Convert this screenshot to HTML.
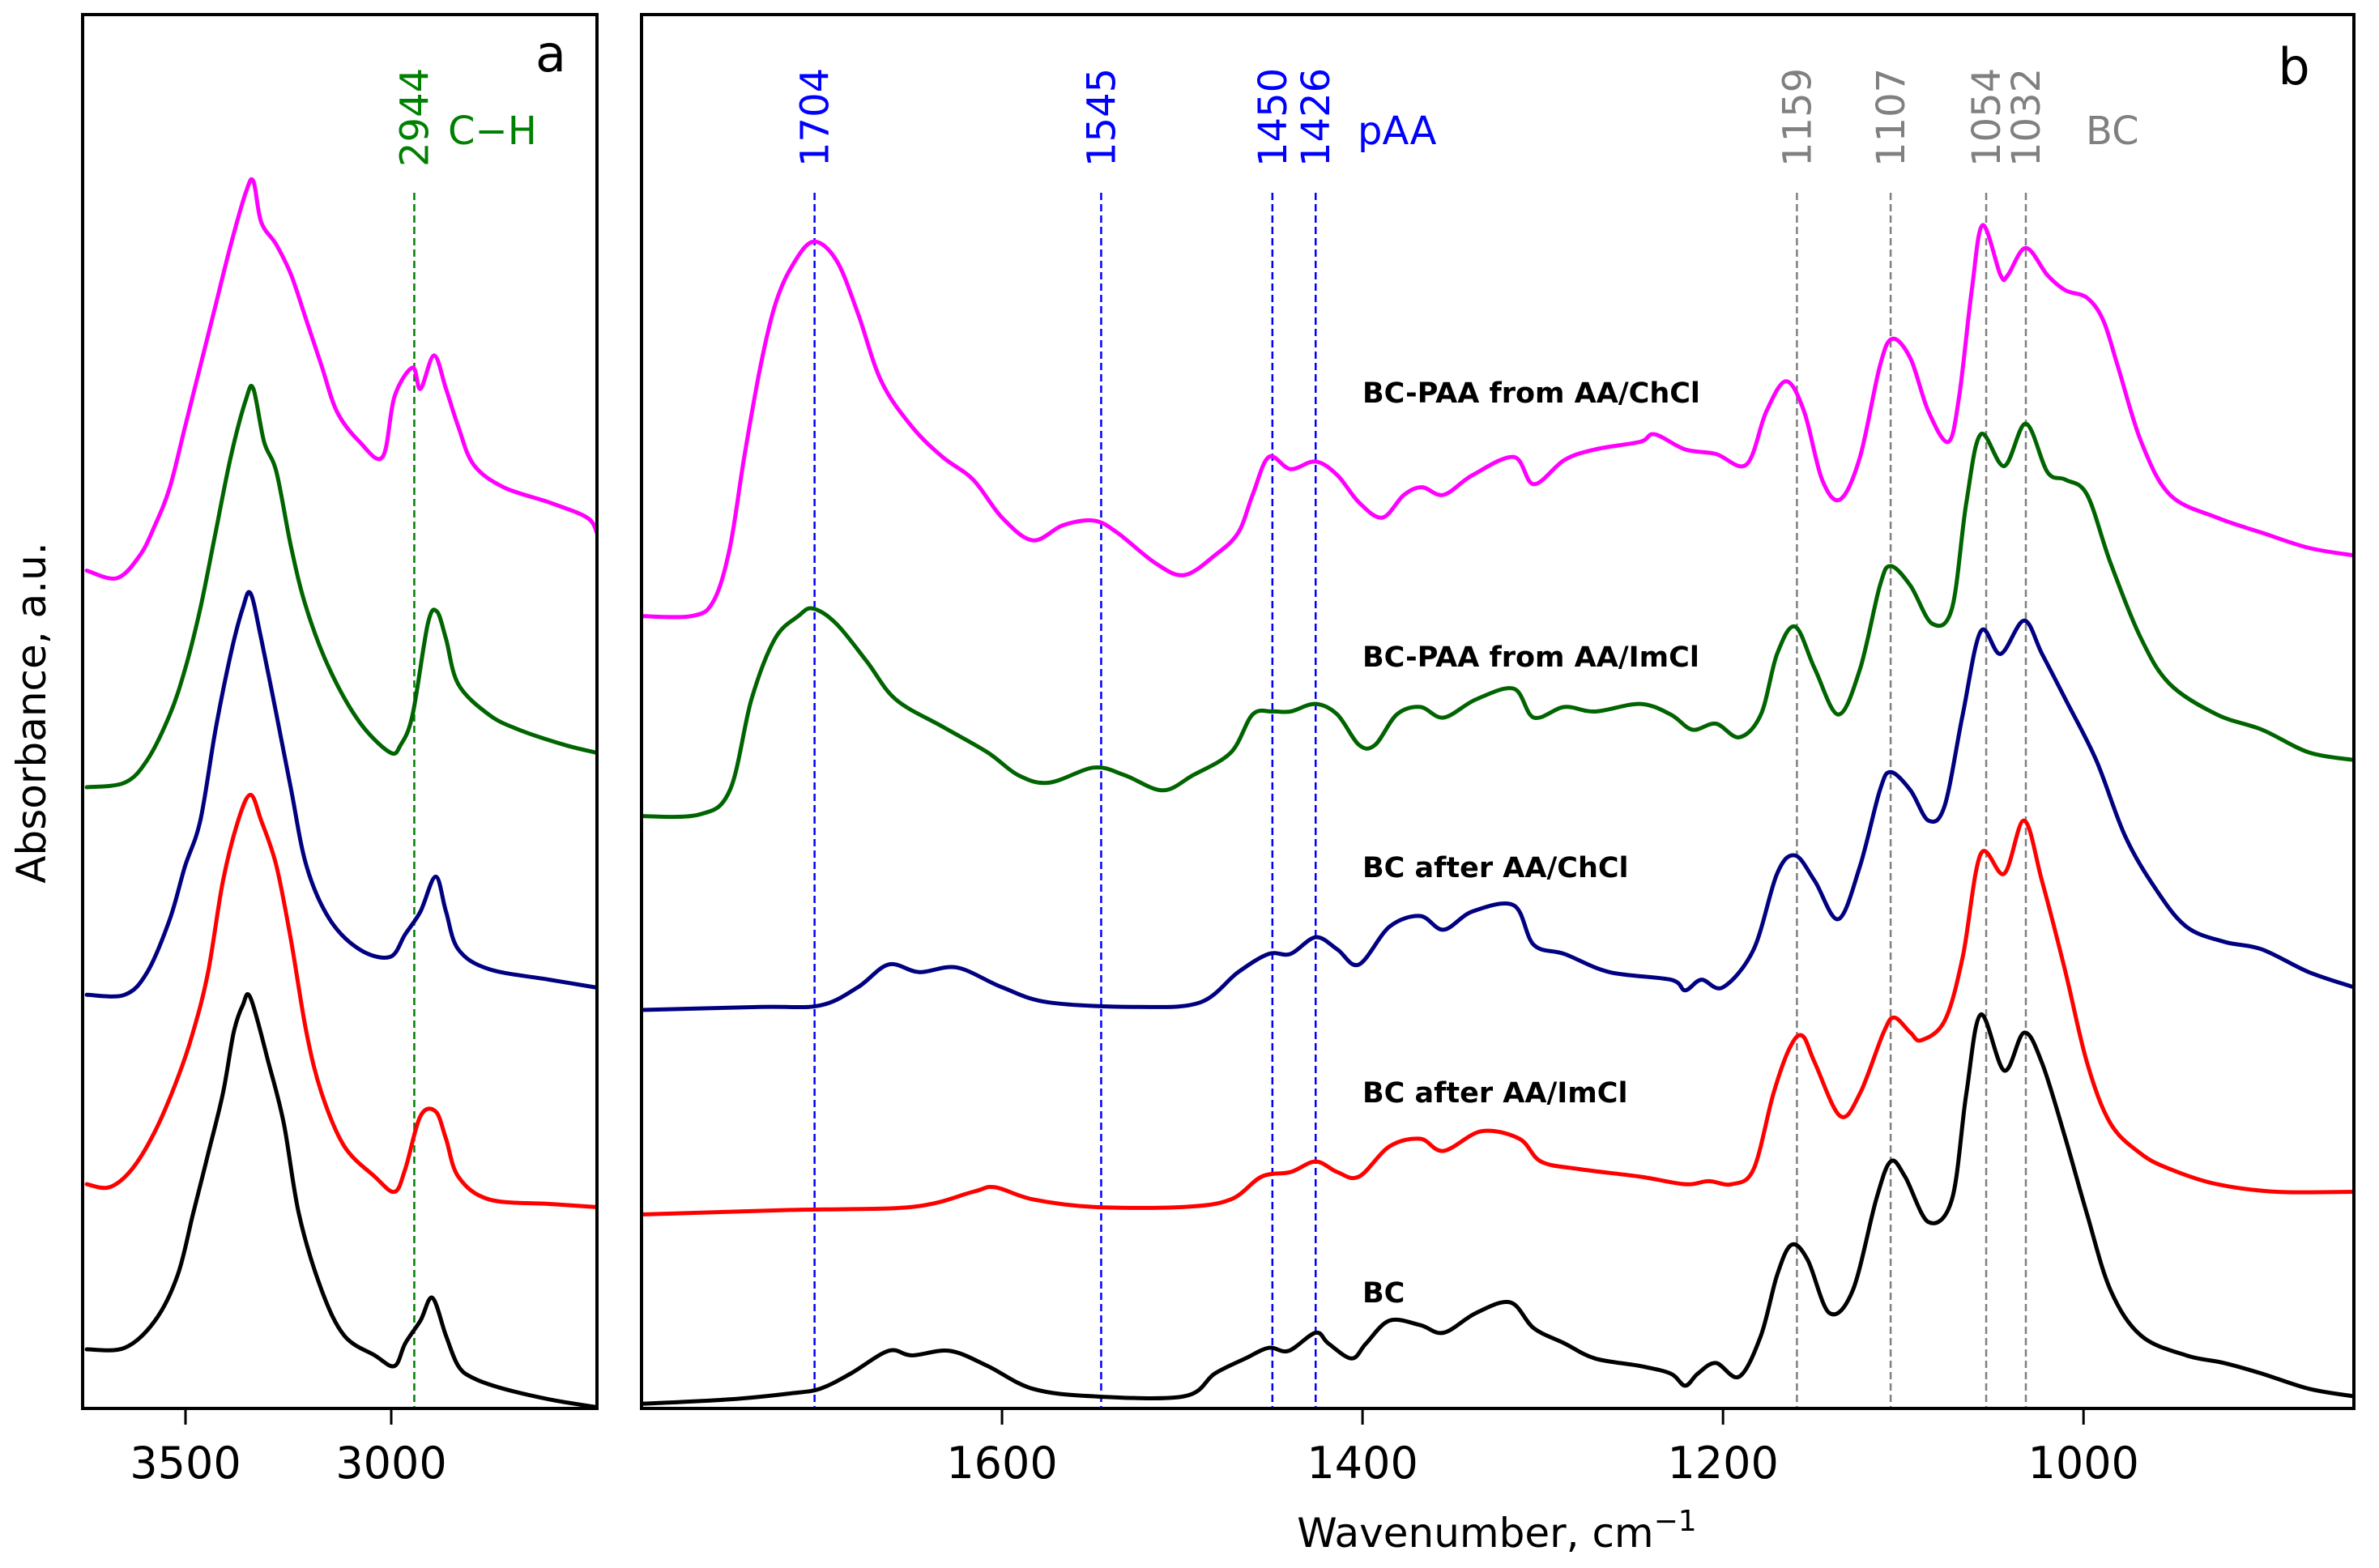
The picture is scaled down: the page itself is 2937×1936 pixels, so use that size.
<!DOCTYPE html>
<html><head><meta charset="utf-8"><style>
html,body{margin:0;padding:0;background:#fff;}
svg{display:block;font-family:"DejaVu Sans","Liberation Sans",sans-serif;}
</style></head><body>
<svg id="fig" width="2937" height="1936" viewBox="0 0 2937 1936" xmlns="http://www.w3.org/2000/svg"></svg>
<script>
// ---- Panel a data (wavenumber, absorbance a.u.) ----
const aBC_wn = [3740,3648,3574,3519,3482,3445,3409,3383,3361,3342,3298,3261,3224,3169,3114,3040,2992,2966,2929,2900,2867,2837,2800,2727,2616,2505];
const aBC_y  = [.39,.40,.58,.88,1.28,1.68,2.08,2.48,2.66,2.71,2.28,1.88,1.28,.78,.48,.35,.28,.43,.58,.73,.48,.28,.20,.13,.06,.01];
const aIm_wn = [3740,3685,3630,3574,3519,3482,3445,3409,3372,3342,3316,3279,3243,3206,3169,3114,3040,2992,2966,2929,2892,2867,2837,2763,2616,2505];
const aIm_y  = [1.48,1.46,1.58,1.83,2.18,2.48,2.88,3.48,3.88,4.05,3.88,3.58,3.08,2.48,2.08,1.73,1.53,1.43,1.58,1.93,1.96,1.78,1.53,1.38,1.35,1.33];
const aCh_wn = [3740,3648,3593,3538,3501,3464,3427,3390,3361,3342,3316,3279,3243,3206,3150,3077,3003,2966,2929,2892,2867,2837,2763,2616,2505];
const aCh_y  = [2.73,2.73,2.88,3.23,3.58,3.88,4.48,4.98,5.28,5.38,5.08,4.58,4.08,3.58,3.23,3.03,2.98,3.13,3.28,3.51,3.28,3.03,2.90,2.83,2.78];
const aPIm_wn = [3740,3648,3593,3538,3501,3464,3427,3390,3353,3335,3309,3279,3243,3206,3150,3077,3003,2977,2948,2911,2889,2867,2837,2763,2690,2579,2505];
const aPIm_y  = [4.10,4.13,4.28,4.58,4.88,5.28,5.78,6.28,6.66,6.73,6.38,6.18,5.68,5.28,4.88,4.53,4.33,4.38,4.58,5.18,5.26,5.08,4.78,4.58,4.48,4.38,4.33];
const aPCh_wn = [3740,3667,3611,3574,3538,3501,3464,3427,3390,3353,3335,3316,3279,3243,3206,3169,3132,3077,3021,2992,2948,2929,2896,2867,2837,2800,2727,2616,2524,2500];
const aPCh_y  = [5.53,5.48,5.63,5.83,6.08,6.48,6.88,7.28,7.68,8.03,8.10,7.83,7.68,7.48,7.18,6.88,6.58,6.38,6.28,6.68,6.87,6.73,6.95,6.73,6.48,6.23,6.08,5.98,5.88,5.78];
// ---- Panel b data ----
const bBC_wn = [1801,1751,1717,1701,1684,1663,1650,1629,1608,1583,1549,1499,1482,1465,1452,1441,1426,1419,1406,1398,1385,1368,1355,1337,1318,1305,1288,1271,1246,1229,1221,1214,1204,1191,1179,1170,1162,1153,1141,1128,1115,1107,1099,1086,1073,1065,1057,1044,1033,1023,1010,998,985,968,943,922,901,875,850];
const bBC_y  = [.03,.06,.10,.13,.23,.38,.35,.38,.28,.13,.08,.08,.23,.33,.40,.38,.50,.43,.33,.43,.58,.55,.50,.63,.70,.53,.43,.33,.28,.23,.15,.23,.30,.21,.48,.88,1.08,.98,.63,.78,1.38,1.63,1.53,1.23,1.38,2.08,2.60,2.23,2.48,2.28,1.78,1.28,.78,.48,.35,.30,.23,.13,.08];
const bIm_wn = [1801,1717,1650,1616,1604,1583,1549,1499,1473,1456,1440,1426,1414,1402,1385,1368,1355,1334,1313,1301,1280,1246,1221,1208,1195,1183,1172,1163,1156,1149,1135,1124,1111,1105,1096,1090,1077,1067,1057,1044,1033,1023,1010,998,985,968,952,926,893,850];
const bIm_y  = [1.28,1.31,1.33,1.43,1.46,1.38,1.33,1.33,1.38,1.53,1.56,1.63,1.56,1.53,1.73,1.78,1.70,1.83,1.78,1.63,1.58,1.53,1.48,1.50,1.48,1.58,2.08,2.38,2.46,2.28,1.93,2.08,2.48,2.58,2.48,2.43,2.56,2.98,3.66,3.53,3.88,3.48,2.88,2.28,1.88,1.68,1.58,1.48,1.43,1.43];
const bCh_wn = [1801,1734,1701,1680,1663,1646,1625,1600,1574,1524,1490,1469,1452,1440,1426,1414,1402,1385,1368,1355,1339,1316,1305,1288,1263,1229,1221,1212,1200,1183,1170,1160,1149,1136,1124,1113,1107,1096,1086,1077,1067,1057,1046,1033,1023,1010,993,977,960,943,922,901,875,850];
const bCh_y  = [2.63,2.65,2.66,2.78,2.93,2.88,2.91,2.78,2.68,2.65,2.68,2.88,3.00,3.00,3.11,3.03,2.93,3.18,3.25,3.16,3.28,3.32,3.06,3.00,2.88,2.83,2.76,2.83,2.78,3.03,3.53,3.65,3.48,3.23,3.58,4.08,4.20,4.08,3.88,3.98,4.58,5.13,4.98,5.20,4.98,4.68,4.28,3.78,3.43,3.18,3.08,3.03,2.88,2.78];
const bPIm_wn = [1801,1768,1751,1739,1726,1713,1705,1692,1675,1659,1633,1608,1591,1574,1549,1532,1511,1494,1473,1461,1450,1440,1426,1414,1402,1393,1381,1368,1355,1337,1316,1305,1288,1271,1246,1229,1217,1204,1191,1179,1170,1160,1149,1136,1124,1113,1107,1096,1084,1073,1065,1057,1044,1032,1020,1010,998,985,968,952,926,901,875,850];
const bPIm_y  = [3.91,3.92,4.08,4.68,5.08,5.23,5.28,5.18,4.93,4.68,4.50,4.33,4.18,4.13,4.23,4.18,4.08,4.18,4.33,4.58,4.60,4.60,4.65,4.58,4.38,4.38,4.58,4.63,4.56,4.68,4.75,4.56,4.63,4.60,4.65,4.58,4.48,4.52,4.43,4.58,4.98,5.16,4.88,4.58,4.88,5.43,5.56,5.43,5.18,5.28,5.98,6.43,6.22,6.50,6.18,6.13,6.03,5.58,5.08,4.78,4.58,4.48,4.33,4.28];
const bPCh_wn = [1801,1772,1760,1751,1743,1734,1726,1717,1705,1692,1680,1667,1650,1633,1616,1600,1583,1566,1549,1536,1515,1499,1482,1469,1461,1452,1440,1426,1414,1402,1389,1377,1367,1355,1339,1316,1305,1288,1271,1246,1238,1221,1204,1187,1176,1165,1155,1145,1135,1124,1113,1106,1096,1086,1075,1069,1062,1056,1046,1042,1032,1020,1010,998,989,981,968,952,926,901,875,850];
const bPCh_y  = [5.23,5.23,5.33,5.68,6.28,6.88,7.28,7.53,7.70,7.58,7.23,6.78,6.48,6.28,6.13,5.88,5.73,5.83,5.86,5.78,5.58,5.50,5.63,5.78,6.03,6.28,6.20,6.25,6.16,5.98,5.88,6.03,6.08,6.03,6.16,6.28,6.10,6.26,6.33,6.38,6.43,6.33,6.30,6.23,6.58,6.78,6.58,6.13,6.00,6.28,6.88,7.06,6.93,6.58,6.38,6.68,7.38,7.81,7.48,7.48,7.66,7.48,7.38,7.33,7.18,6.88,6.38,6.03,5.88,5.78,5.68,5.63];
// ticks and markers
const aTicks = [3500,3000];
const bTicks = [1600,1400,1200,1000];
const aMarkers = [2944];
const pAAMarkers = [1704,1545,1450,1426];
const bcMarkers = [1159,1107,1054,1032];
const seriesLabels = ["BC-PAA from AA/ChCl","BC-PAA from AA/ImCl","BC after AA/ChCl","BC after AA/ImCl","BC"];
const seriesLabelY = [6.36,2.9+0.66,2.85+0.7-0.1+0.03,1.25+0.6,0.41+0.35+0.01];

const NS="http://www.w3.org/2000/svg";
const svg=document.getElementById('fig');
function mk(tag,attrs,parent){const e=document.createElementNS(NS,tag);for(const k in attrs)e.setAttribute(k,attrs[k]);(parent||svg).appendChild(e);return e;}

const TOP=18,BOT=1739,YMAX=9.2;
const A={l:102,r:737,min:3750,max:2500};
const B={l:792,r:2906,min:1800,max:850};
function yS(v){return BOT-(v/YMAX)*(BOT-TOP);}
function xA(w){return A.l+(A.min-w)/(A.min-A.max)*(A.r-A.l);}
function xB(w){return B.l+(B.min-w)/(B.min-B.max)*(B.r-B.l);}

// clip paths
const defs=mk('defs',{});
const ca=mk('clipPath',{id:'ca'},defs);mk('rect',{x:A.l,y:TOP,width:A.r-A.l,height:BOT-TOP},ca);
const cb=mk('clipPath',{id:'cb'},defs);mk('rect',{x:B.l,y:TOP,width:B.r-B.l,height:BOT-TOP},cb);

function smoothPath(pts){
  let d='M'+pts[0][0].toFixed(1)+','+pts[0][1].toFixed(1);
  for(let i=0;i<pts.length-1;i++){
    const p0=pts[Math.max(0,i-1)],p1=pts[i],p2=pts[i+1],p3=pts[Math.min(pts.length-1,i+2)];
    const c1x=p1[0]+(p2[0]-p0[0])/6,c1y=p1[1]+(p2[1]-p0[1])/6;
    const c2x=p2[0]-(p3[0]-p1[0])/6,c2y=p2[1]-(p3[1]-p1[1])/6;
    d+=' C'+c1x.toFixed(1)+','+c1y.toFixed(1)+' '+c2x.toFixed(1)+','+c2y.toFixed(1)+' '+p2[0].toFixed(1)+','+p2[1].toFixed(1);
  }
  return d;
}

// dashed marker lines
const gA=mk('g',{'clip-path':'url(#ca)'});


const gB=mk('g',{'clip-path':'url(#cb)'});



aMarkers.forEach(w=>{
  const l=mk('line',{x1:xA(w),x2:xA(w),y1:238,y2:BOT,stroke:'#008000','stroke-width':2.5,'stroke-dasharray':'9,5'},gA);
  
  
});
pAAMarkers.forEach(w=>{
  const l=mk('line',{x1:xB(w),x2:xB(w),y1:238,y2:BOT,stroke:'#0000ff','stroke-width':2.5,'stroke-dasharray':'9,5'},gB);
  
  
});
bcMarkers.forEach(w=>{
  const l=mk('line',{x1:xB(w),x2:xB(w),y1:238,y2:BOT,stroke:'#808080','stroke-width':2.5,'stroke-dasharray':'9,5'},gB);
  
  
});

function series(g,xf,wn,ys,color,name){
  const pts=wn.map((w,i)=>[xf(w),yS(ys[i])]);
  const p=mk('path',{d:smoothPath(pts),fill:'none',stroke:color,'stroke-width':5,'stroke-linejoin':'round','stroke-linecap':'round'},g);
  
  
}
series(gA,xA,aBC_wn,aBC_y,'#000000','a-curve-bc');
series(gA,xA,aIm_wn,aIm_y,'#ff0000','a-curve-bc-after-imcl');
series(gA,xA,aCh_wn,aCh_y,'#000080','a-curve-bc-after-chcl');
series(gA,xA,aPIm_wn,aPIm_y,'#006400','a-curve-bcpaa-imcl');
series(gA,xA,aPCh_wn,aPCh_y,'#ff00ff','a-curve-bcpaa-chcl');
series(gB,xB,bBC_wn,bBC_y,'#000000','b-curve-bc');
series(gB,xB,bIm_wn,bIm_y,'#ff0000','b-curve-bc-after-imcl');
series(gB,xB,bCh_wn,bCh_y,'#000080','b-curve-bc-after-chcl');
series(gB,xB,bPIm_wn,bPIm_y,'#006400','b-curve-bcpaa-imcl');
series(gB,xB,bPCh_wn,bPCh_y,'#ff00ff','b-curve-bcpaa-chcl');

// frames
const fa=mk('rect',{x:A.l,y:TOP,width:A.r-A.l,height:BOT-TOP,fill:'none',stroke:'#000','stroke-width':4});


const fb=mk('rect',{x:B.l,y:TOP,width:B.r-B.l,height:BOT-TOP,fill:'none',stroke:'#000','stroke-width':4});



// ticks
function tick(x,label,nm){
  const t=mk('line',{x1:x,x2:x,y1:BOT,y2:BOT+20,stroke:'#000','stroke-width':3});
  
  
  const tx=mk('text',{x:x,y:1825,'font-size':54,'text-anchor':'middle',fill:'#000'});
  tx.textContent=label;
  
  
}
aTicks.forEach(w=>tick(xA(w),w,'a-'+w));
bTicks.forEach(w=>tick(xB(w),w,'b-'+w));

function text(x,y,str,opts,nm,rot){
  const a=Object.assign({x:x,y:y,fill:'#000'},opts);
  if(rot)a.transform='rotate(-90 '+x+' '+y+')';
  const t=mk('text',a);t.textContent=str;
  
  
  return t;
}
// axis titles
const xt=text(1848,1910,'',{'font-size':50,'text-anchor':'middle'},'x-axis-title');
xt.textContent='Wavenumber, cm';
const sup=mk('tspan',{dy:-20,'font-size':36},xt);sup.textContent='\u22121';
text(56,880,'Absorbance, a.u.',{'font-size':50,'text-anchor':'middle'},'y-axis-title',true);
text(680,88,'a',{'font-size':62,'text-anchor':'middle'},'panel-a-label');
text(2832,104,'b',{'font-size':62,'text-anchor':'middle'},'panel-b-label');

// peak labels
aMarkers.forEach(w=>text(xA(w)+17,206,String(w),{'font-size':48,fill:'#008000'},'peak-label-'+w,true));
text(553,178,'C\u2212H',{'font-size':48,fill:'#008000'},'ch-label');
pAAMarkers.forEach(w=>text(xB(w)+17,206,String(w),{'font-size':48,fill:'#0000ff'},'peak-label-'+w,true));
text(1676,178,'pAA',{'font-size':48,fill:'#0000ff'},'paa-label');
bcMarkers.forEach(w=>text(xB(w)+17,206,String(w),{'font-size':48,fill:'#808080'},'peak-label-'+w,true));
text(2575,178,'BC',{'font-size':48,fill:'#808080'},'bc-label');

// series labels
const labYpx=[497,823,1083,1361,1608];
seriesLabels.forEach((s,i)=>text(1682,labYpx[i],s,{'font-size':35,'font-weight':'bold'},'series-label-'+i));
</script>
</body></html>
